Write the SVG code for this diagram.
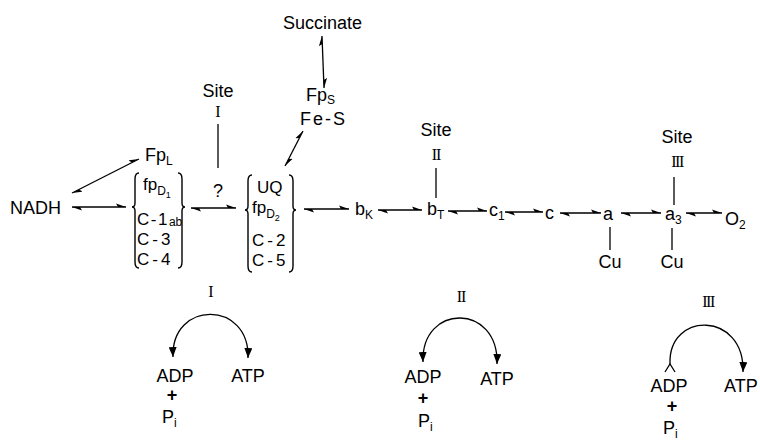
<svg xmlns="http://www.w3.org/2000/svg" width="760" height="440" viewBox="0 0 760 440">
<style>
.t{font-family:"Liberation Sans",Arial,sans-serif;font-size:18px;fill:#000}
.k{font-size:17px}
.s{font-size:12px}
.ss{font-size:9px}
.r{font-family:"Liberation Serif","Times New Roman",serif;font-size:16px;fill:#000}
.ln{stroke:#000;stroke-width:1.3;fill:none}
.ar{marker-start:url(#h);marker-end:url(#h)}
.br{stroke:#000;stroke-width:1.4;fill:none}
</style>
<defs>
<marker id="h" viewBox="0 0 10 6" refX="10" refY="4" markerWidth="10" markerHeight="6" markerUnits="userSpaceOnUse" orient="auto-start-reverse">
<path d="M10,4 L0,0.5 L2,4 Z" fill="#000"/>
</marker>
<marker id="tri" viewBox="0 0 10 8" refX="10" refY="4" markerWidth="10" markerHeight="8" markerUnits="userSpaceOnUse" orient="auto-start-reverse">
<path d="M10,4 L0,0 L0,8 Z" fill="#000"/>
</marker>
</defs>
<rect width="760" height="440" fill="#fff"/>

<g id="connectors">
<line class="ln ar" x1="322" y1="36" x2="324" y2="88"/>
<line class="ln ar" x1="303" y1="131" x2="285" y2="166"/>
<line class="ln ar" x1="72" y1="193" x2="139" y2="159"/>
<line class="ln ar" x1="72" y1="207" x2="126" y2="207"/>
<line class="ln ar" x1="191" y1="208" x2="236" y2="208"/>
<line class="ln ar" x1="304" y1="209" x2="349" y2="209"/>
<line class="ln ar" x1="378" y1="210" x2="422" y2="210"/>
<line class="ln ar" x1="448" y1="211" x2="487" y2="211"/>
<line class="ln ar" x1="505" y1="212" x2="543" y2="212"/>
<line class="ln ar" x1="560" y1="213" x2="601" y2="213"/>
<line class="ln ar" x1="621" y1="213" x2="661" y2="213"/>
<line class="ln ar" x1="686" y1="213" x2="722" y2="213"/>
<line class="ln" x1="218" y1="124" x2="218" y2="168"/>
<line class="ln" x1="436" y1="168" x2="436" y2="198"/>
<line class="ln" x1="674" y1="177" x2="674" y2="205"/>
<line class="ln" x1="610" y1="227" x2="610" y2="250"/>
<line class="ln" x1="672" y1="228" x2="672" y2="250"/>
<path class="ln" d="M173,357 C171,300 250,300 248,358" marker-start="url(#tri)" marker-end="url(#tri)"/>
<path class="ln" d="M423,362 C421,303 499,303 497,364" marker-start="url(#tri)" marker-end="url(#tri)"/>
<path class="ln" d="M670,364 C668,311 745,311 743,372" marker-end="url(#tri)"/>
<path class="ln" d="M665,372 L670,364 L675,372"/>
</g>

<g id="succinate"><text class="t" x="283" y="29">Succinate</text></g>
<g id="fps">
<text class="t" x="306" y="101">Fp<tspan class="s" dy="3">S</tspan></text>
<text class="t" x="300" y="125" letter-spacing="2">Fe-S</text>
</g>
<g id="site1">
<text class="t" x="218" y="97" text-anchor="middle" font-size="16">Site</text>
<text class="r" x="218" y="117" text-anchor="middle">I</text>
</g>
<g id="q"><text class="t" x="218" y="197" text-anchor="middle" font-size="17">?</text></g>
<g id="fpl"><text class="t" x="145" y="161">Fp<tspan class="s" dy="4">L</tspan></text></g>
<g id="nadh"><text class="t" x="10" y="214" font-size="19">NADH</text></g>

<g id="complex1">
<path class="br" d="M139,173 Q135,173 135,179 L135,203 Q135,207 132,207 Q135,207 135,211 L135,262 Q135,268 139,268"/>
<path class="br" d="M178,173 Q182,173 182,179 L182,203 Q182,207 185,207 Q182,207 182,211 L182,262 Q182,268 178,268"/>
<text class="t k" x="143" y="190">fp<tspan class="s" dy="5">D</tspan><tspan class="ss" dy="3">1</tspan></text>
<text class="t k" x="137" y="225" letter-spacing="1.5">C-1<tspan class="s" dy="1" letter-spacing="0" font-size="11">ab</tspan></text>
<text class="t k" x="137" y="245" letter-spacing="3">C-3</text>
<text class="t k" x="137" y="265" letter-spacing="3">C-4</text>
</g>

<g id="complex2">
<path class="br" d="M252,175 Q248,175 248,181 L248,206 Q248,210 245,210 Q248,210 248,214 L248,266 Q248,272 252,272"/>
<path class="br" d="M289,175 Q293,175 293,181 L293,206 Q293,210 296,210 Q293,210 293,214 L293,266 Q293,272 289,272"/>
<text class="t k" x="257" y="193">UQ</text>
<text class="t k" x="252" y="213">fp<tspan class="s" dy="5">D</tspan><tspan class="ss" dy="3">2</tspan></text>
<text class="t k" x="252" y="246" letter-spacing="3">C-2</text>
<text class="t k" x="252" y="266" letter-spacing="3">C-5</text>
</g>

<g id="bk"><text class="t" x="355" y="215">b<tspan class="s" dy="4">K</tspan></text></g>
<g id="bt"><text class="t" x="427" y="215">b<tspan class="s" dy="4">T</tspan></text></g>
<g id="site2">
<text class="t" x="436" y="136" text-anchor="middle" font-size="16">Site</text>
<text class="r" x="436" y="160" text-anchor="middle" letter-spacing="-1">II</text>
</g>
<g id="c1"><text class="t" x="489" y="216">c<tspan class="s" dy="4">1</tspan></text></g>
<g id="c"><text class="t" x="545" y="219">c</text></g>
<g id="a">
<text class="t" x="603" y="220">a</text>
<text class="t" x="610" y="268" text-anchor="middle" font-size="17">Cu</text>
</g>
<g id="a3">
<text class="t" x="665" y="220">a<tspan class="s" dy="4">3</tspan></text>
<text class="t" x="672" y="268" text-anchor="middle" font-size="17">Cu</text>
</g>
<g id="site3">
<text class="t" x="677" y="143" text-anchor="middle" font-size="16">Site</text>
<text class="r" x="677" y="167" text-anchor="middle" letter-spacing="-1.5">III</text>
</g>
<g id="o2"><text class="t" x="725" y="225">O<tspan class="s" dy="4">2</tspan></text></g>

<g id="phos1">
<text class="r" x="211" y="297" text-anchor="middle">I</text>
<text class="t" x="175" y="382" text-anchor="middle" font-size="17">ADP</text>
<text class="t" x="248" y="382" text-anchor="middle" font-size="17">ATP</text>
<text class="t" x="172" y="401" text-anchor="middle" font-size="15" font-weight="bold">+</text>
<text class="t" x="162" y="423" font-size="17">P<tspan class="s" dy="4">i</tspan></text>
</g>
<g id="phos2">
<text class="r" x="461" y="302" text-anchor="middle" letter-spacing="-1">II</text>
<text class="t" x="423" y="383" text-anchor="middle" font-size="17">ADP</text>
<text class="t" x="497" y="385" text-anchor="middle" font-size="17">ATP</text>
<text class="t" x="423" y="404" text-anchor="middle" font-size="15" font-weight="bold">+</text>
<text class="t" x="418" y="427" font-size="17">P<tspan class="s" dy="4">i</tspan></text>
</g>
<g id="phos3">
<text class="r" x="708" y="307" text-anchor="middle" letter-spacing="-1.5">III</text>
<text class="t" x="669" y="392" text-anchor="middle" font-size="17">ADP</text>
<text class="t" x="724" y="392" font-size="17">ATP</text>
<text class="t" x="672" y="412" text-anchor="middle" font-size="15" font-weight="bold">+</text>
<text class="t" x="663" y="434" font-size="17">P<tspan class="s" dy="4">i</tspan></text>
</g>
</svg>
